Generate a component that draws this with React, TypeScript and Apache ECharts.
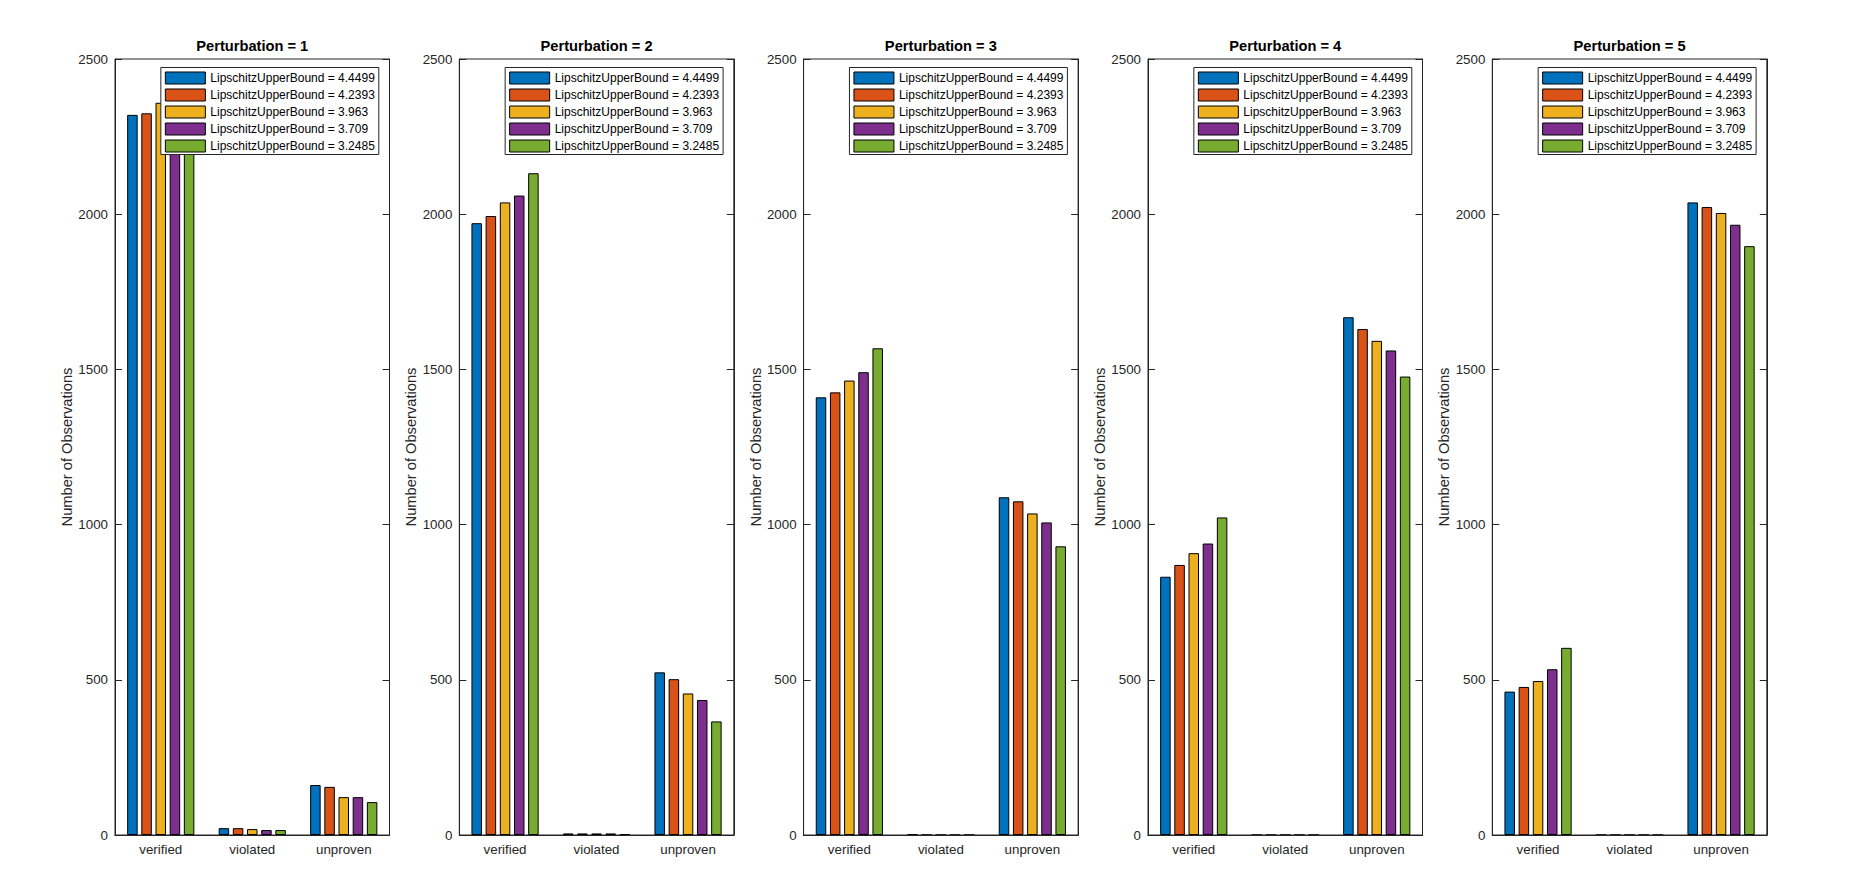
import React, { useEffect, useRef } from "react";
import * as echarts from "echarts";

const categories = ["verified", "violated", "unproven"];
const boundNames = [
  "LipschitzUpperBound = 4.4499",
  "LipschitzUpperBound = 4.2393",
  "LipschitzUpperBound = 3.963",
  "LipschitzUpperBound = 3.709",
  "LipschitzUpperBound = 3.2485",
];
const perturbations = [1, 2, 3, 4, 5];
const colors = ["#0072BD", "#D95319", "#EDB120", "#7E2F8E", "#77AC30"];

// values per bound: [verified, violated, unproven]
const p1 = [
  [2320, 22, 161],
  [2325, 22, 155],
  [2359, 19, 122],
  [2362, 16, 122],
  [2378, 16, 106],
];
const p2 = [
  [1971, 5, 524],
  [1994, 5, 502],
  [2038, 5, 456],
  [2060, 5, 435],
  [2132, 2, 366],
];
const p3 = [
  [1410, 2, 1088],
  [1426, 0, 1075],
  [1464, 0, 1036],
  [1491, 0, 1007],
  [1568, 0, 930],
];
const p4 = [
  [832, 0, 1668],
  [870, 0, 1630],
  [908, 0, 1592],
  [939, 0, 1561],
  [1023, 0, 1477],
];
const p5 = [
  [462, 0, 2038],
  [477, 0, 2023],
  [496, 0, 2004],
  [534, 0, 1966],
  [603, 0, 1897],
];
const panels = [p1, p2, p3, p4, p5];
const yTicks = { min: 0, max: 2500, interval: 500 };

const W = 1859;
const H = 889;
const FONT = "Liberation Sans, Arial, Helvetica, sans-serif";
const AX = "#262626";

export default function App() {
  const ref = useRef<HTMLDivElement>(null);

  useEffect(() => {
    if (!ref.current) return;
    const chart = echarts.init(ref.current, undefined, { renderer: "svg" });

    const panelLeft = [115, 459.3, 803.6, 1148, 1492.3];
    const pw = 274.5;
    const top = 59;
    const ph = 776;

    const grid: any[] = [];
    const xAxis: any[] = [];
    const yAxis: any[] = [];
    const series: any[] = [];
    const legend: any[] = [];
    const title: any[] = [];

    const tick = { inside: true, length: 7, lineStyle: { color: AX, width: 1 } };

    panels.forEach((pdata, i) => {
      const left = panelLeft[i];
      grid.push({
        left,
        top,
        width: pw,
        height: ph,
        show: true,
        borderColor: AX,
        borderWidth: 1,
        backgroundColor: "#fff",
      });
      xAxis.push({
        type: "category",
        gridIndex: i,
        data: categories,
        z: 5,
        axisTick: { ...tick, alignWithLabel: true },
        axisLine: { show: true, lineStyle: { color: AX } },
        axisLabel: { color: AX, fontSize: 13.33, margin: 8, fontFamily: FONT },
      });
      xAxis.push({
        type: "category",
        gridIndex: i,
        position: "top",
        data: categories,
        z: 5,
        axisTick: { ...tick, alignWithLabel: true },
        axisLine: { show: true, lineStyle: { color: AX } },
        axisLabel: { show: false },
      });
      yAxis.push({
        type: "value",
        gridIndex: i,
        ...yTicks,
        z: 5,
        axisTick: { ...tick, show: true },
        axisLine: { show: true, lineStyle: { color: AX } },
        splitLine: { show: false },
        axisLabel: {
          color: AX,
          fontSize: 13.33,
          margin: 7,
          fontFamily: FONT,
          formatter: (v: number) => String(v),
        },
        name: "Number of Observations",
        nameLocation: "middle",
        nameGap: 36,
        nameTextStyle: { color: AX, fontSize: 14.67, fontFamily: FONT },
      });
      yAxis.push({
        type: "value",
        gridIndex: i,
        position: "right",
        ...yTicks,
        z: 5,
        axisTick: { ...tick, show: true },
        axisLine: { show: true, lineStyle: { color: AX } },
        splitLine: { show: false },
        axisLabel: { show: false },
      });
      pdata.forEach((vals, j) => {
        series.push({
          type: "bar",
          name: boundNames[j],
          xAxisIndex: 2 * i,
          yAxisIndex: 2 * i,
          data: vals,
          barWidth: 10.5,
          barGap: "35%",
          itemStyle: { color: colors[j], borderColor: "#000", borderWidth: 1 },
        });
      });
      legend.push({
        orient: "vertical",
        right: W - (left + pw - 10.7),
        top: 67.5,
        data: boundNames,
        itemWidth: 40,
        itemHeight: 12,
        itemGap: 4,
        padding: [4, 4, 2, 4],
        backgroundColor: "#fff",
        borderColor: AX,
        borderWidth: 1,
        borderRadius: 0,
        selectedMode: false,
        icon: "rect",
        itemStyle: { borderColor: "#000", borderWidth: 1 },
        textStyle: { fontSize: 12, color: "#000", fontFamily: FONT, lineHeight: 12 },
      });
      title.push({
        text: "Perturbation = " + perturbations[i],
        left: left + pw / 2,
        top: 38,
        padding: 0,
        textAlign: "center",
        textStyle: { fontSize: 14.67, fontWeight: "bold", color: "#000", fontFamily: FONT },
      });
    });

    chart.setOption({
      animation: false,
      backgroundColor: "#fff",
      textStyle: { fontFamily: FONT },
      title,
      legend,
      grid,
      xAxis,
      yAxis,
      series,
    });

    return () => chart.dispose();
  }, []);

  return (
    <div
      ref={ref}
      style={{ position: "fixed", left: 0, top: 0, width: W, height: H, background: "#fff" }}
    />
  );
}
